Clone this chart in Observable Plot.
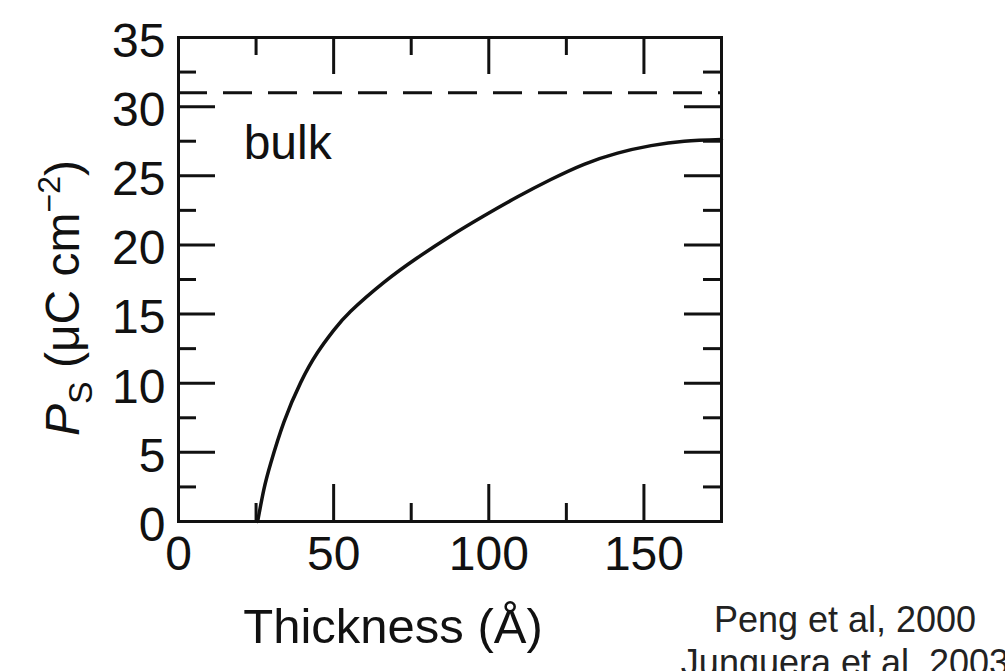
<!DOCTYPE html>
<html>
<head>
<meta charset="utf-8">
<script src="https://cdn.jsdelivr.net/npm/d3@7"></script>
<script src="https://cdn.jsdelivr.net/npm/@observablehq/plot@0.6"></script>
<style>
  html, body { margin: 0; padding: 0; background: #fff; }
  #wrap { position: relative; width: 1005px; height: 671px; overflow: hidden; font-family: "Liberation Sans", Arial, sans-serif; }
  #caption { position: absolute; left: 645px; top: 598px; width: 400px; text-align: center; font-size: 36px; line-height: 43px; color: #222; white-space: nowrap; }
</style>
</head>
<body>
<div id="wrap">
  <div id="chart"></div>
  <div id="caption">Peng et al, 2000<br>Junquera et al, 2003</div>
</div>
<script>
// Data
const thickness    = [25.5, 27.5, 29.7, 34.0, 39.4, 44.7, 50.0, 55.5, 66.2, 77.0, 87.7, 98.5, 109.3, 120.0, 130.7, 141.5, 152.3, 163.0, 175.0];
const polarization = [0.0, 2.3, 4.19, 7.2, 10.06, 12.18, 13.82, 15.2, 17.29, 19.07, 20.65, 22.11, 23.48, 24.73, 25.83, 26.64, 27.18, 27.5, 27.62];
const bulkValue = 31;
const xTicksMajor = [0, 50, 100, 150];
const xTicksMinor = [25, 75, 125];
const yTicksMajor = [0, 5, 10, 15, 20, 25, 30, 35];
const yTicksMinor = [2.5, 7.5, 12.5, 17.5, 22.5, 27.5, 32.5];
const annotations = [{x: 21, y: 26.2, text: "bulk"}];

const curve = thickness.map((t, i) => ({t, p: polarization[i]}));

const W = 1005, H = 671;
const mL = 178, mR = 284, mT = 37, mB = 150;
const plotW = W - mL - mR, plotH = H - mT - mB;
const longT = 37, shortT = 18, sw = 3;

const chart = Plot.plot({
  width: W, height: H,
  marginLeft: mL, marginRight: mR, marginTop: mT, marginBottom: mB,
  style: {fontFamily: "Liberation Sans, Arial, sans-serif", color: "#111", background: "transparent"},
  x: {domain: [0, 175]},
  y: {domain: [0, 35]},
  marks: [
    // bottom ticks
    Plot.ruleX(xTicksMajor, {x: d => d, insetTop: plotH - longT, stroke: "#111", strokeWidth: sw}),
    Plot.ruleX(xTicksMinor, {x: d => d, insetTop: plotH - shortT, stroke: "#111", strokeWidth: sw}),
    // top ticks
    Plot.ruleX(xTicksMajor, {x: d => d, insetBottom: plotH - longT, stroke: "#111", strokeWidth: sw}),
    Plot.ruleX(xTicksMinor, {x: d => d, insetBottom: plotH - shortT, stroke: "#111", strokeWidth: sw}),
    // left ticks
    Plot.ruleY(yTicksMajor, {y: d => d, insetRight: plotW - longT, stroke: "#111", strokeWidth: sw}),
    Plot.ruleY(yTicksMinor, {y: d => d, insetRight: plotW - shortT, stroke: "#111", strokeWidth: sw}),
    // right ticks
    Plot.ruleY(yTicksMajor, {y: d => d, insetLeft: plotW - longT, stroke: "#111", strokeWidth: sw}),
    Plot.ruleY(yTicksMinor, {y: d => d, insetLeft: plotW - shortT, stroke: "#111", strokeWidth: sw}),
    // bulk dashed line
    Plot.ruleY([bulkValue], {stroke: "#111", strokeWidth: 3, strokeDasharray: "29,16"}),
    // curve
    Plot.line(curve, {x: "t", y: "p", curve: "natural", stroke: "#111", strokeWidth: 3.5}),
    Plot.text(annotations, {x: "x", y: "y", text: "text", textAnchor: "start", lineAnchor: "bottom", fontSize: 48, fill: "#111"}),
    Plot.frame({stroke: "#111", strokeWidth: 3}),
    Plot.axisX({anchor: "bottom", ticks: xTicksMajor, tickSize: 0, tickPadding: 14, fontSize: 48, label: null, tickFormat: d => String(d)}),
    Plot.axisY({anchor: "left", ticks: yTicksMajor, tickSize: 0, tickPadding: 13, fontSize: 48, label: null, dy: 4, tickFormat: d => String(d)})
  ]
});

document.getElementById("chart").appendChild(chart);

// Axis titles
const svg = d3.select(chart);
svg.append("text")
  .attr("x", 393).attr("y", 643)
  .attr("text-anchor", "middle")
  .attr("font-size", 49)
  .attr("fill", "#111")
  .text("Thickness (Å)");

const yl = svg.append("text")
  .attr("transform", "translate(79,298) rotate(-90)")
  .attr("text-anchor", "middle")
  .attr("font-size", 48)
  .attr("fill", "#111");
yl.append("tspan").attr("font-style", "italic").text("P");
yl.append("tspan").attr("font-size", 34).attr("dy", 13).text("S");
yl.append("tspan").attr("dy", -13).text(" (μC cm");
yl.append("tspan").attr("font-size", 32).attr("dy", -19).text("−2");
yl.append("tspan").attr("dy", 19).text(")");
</script>
</body>
</html>
